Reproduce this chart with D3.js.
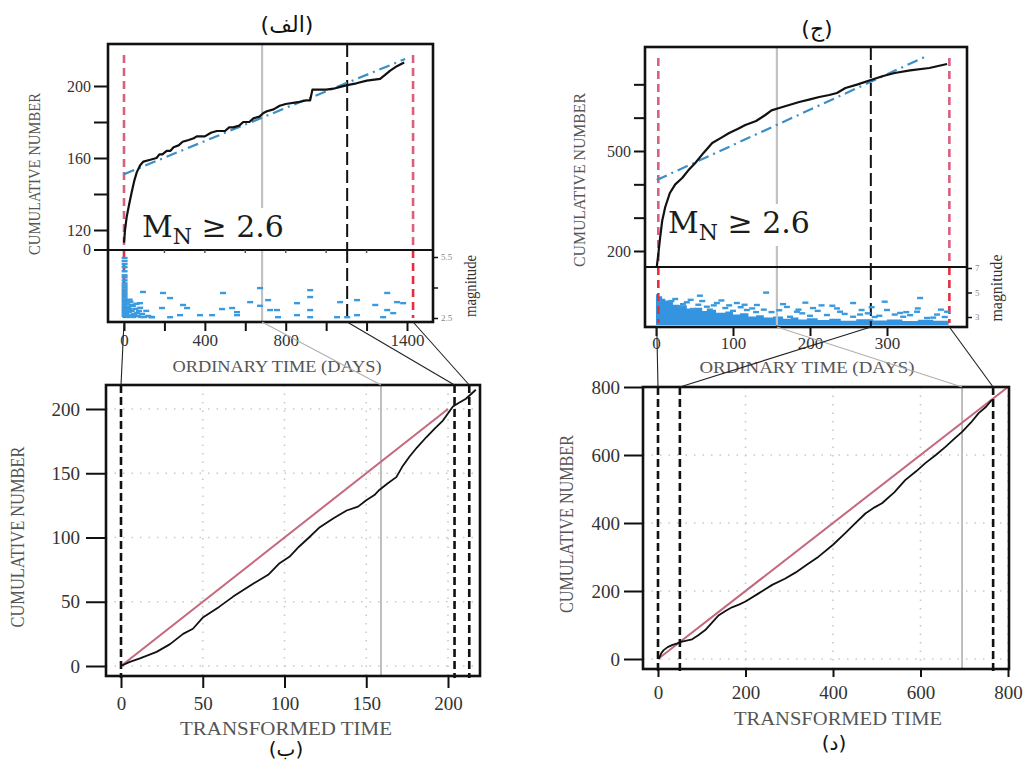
<!DOCTYPE html>
<html>
<head>
<meta charset="utf-8">
<script src="https://cdn.jsdelivr.net/npm/d3@7"></script>
<style>
  body { margin: 0; background: #fff; }
  svg { display: block; }
</style>
</head>
<body>
<svg id="fig" width="1024" height="761"></svg>
<script>
// ---------- data: panel (الف) ordinary time ----------
const daysA = [0, 5, 13, 25, 38, 50, 63, 80, 96, 130, 161, 175, 190, 211, 230, 245, 270, 290, 320, 345, 360, 400, 430, 459, 500, 520, 540, 570, 590, 620, 640, 670, 690, 707, 740, 770, 800, 860, 900, 921, 932, 1000, 1036, 1070, 1104, 1150, 1201, 1267, 1290, 1317, 1350, 1386];
const cumA  = [113, 120, 127, 134, 141, 147, 152, 156, 158, 159, 160, 162, 162, 164, 164, 166, 167, 169, 170, 171, 172, 172, 174, 175, 175, 177, 177, 178, 180, 180, 182, 183, 185, 186, 187, 189, 190, 191, 192, 192, 198, 198, 198.5, 199.5, 200.5, 201.5, 203, 204, 206, 208.5, 211, 213];
const fitDaysA = [0, 1391];
const fitCumA  = [151, 215];
const quakesA = [
  [3,5.45],[3,5.3],[3,5.15],[3,5.0],[3,4.8],[3,4.6],[3,4.5],[3,4.35],[3,4.2],[3,4.1],[3,4.0],[3,3.9],[3,3.8],[3,3.7],
  [3,3.6],[3,3.5],[3,3.4],[3,3.3],[3,3.2],[3,3.1],[3,3.0],[3,2.9],[3,2.8],[3,2.7],[3,2.6],
  [8,3.35],[14,3.2],[20,3.05],[26,2.95],[32,3.3],[38,2.85],[44,3.1],[50,2.7],[56,2.95],[62,3.2],[68,2.6],[74,2.85],
  [80,3.0],[12,2.7],[18,2.55],[24,2.8],[30,2.6],[36,3.15],[46,2.55],[58,2.6],[90,2.7],[100,2.55],[110,2.85],[120,2.6],
  [135,2.55],[15,2.9],[28,3.4],[42,2.65],[65,2.75],[85,2.55],
  [94,3.78],[193,3.73],[228,3.48],[490,3.73],[673,3.97],[921,3.87],[1302,3.73],[79,3.23],[188,2.99],[292,3.14],
  [312,2.99],[376,2.64],[277,2.64],[139,2.54],[228,2.54],[436,2.64],[485,2.94],[535,2.99],[559,2.79],[559,2.64],
  [624,3.28],[713,3.38],[723,2.89],[757,2.89],[762,2.54],[856,3.23],[856,2.64],[921,3.53],[921,2.89],[921,2.54],
  [1069,3.28],[1054,2.54],[1153,3.38],[1153,2.64],[1243,3.14],[1302,2.89],[1332,2.74],[1282,2.54],[1351,3.28],
  [1381,3.23],[1104,2.54],[673,3.1]
];
const ticksDaysA = [0, 200, 400, 600, 800, 1000, 1200, 1400];
const labelsDaysA = ["0", "", "400", "", "800", "", "", "1400"];
const ticksCumA = [120, 140, 160, 180, 200];
const labelsCumA = ["120", "", "160", "", "200"];
const ticksMagA = [2.5, 4, 5.5];
const labelsMagA = ["2.5", "", "5.5"];
const redDaysA = [0, 1430];
const blackDaysA = [1104];
const grayDaysA = [683];

// ---------- data: panel (ج) ordinary time ----------
const daysC = [1, 3, 5, 8, 12, 18, 25, 34, 42, 51, 62, 73, 85, 95, 106, 116, 130, 142, 150, 160, 173, 186, 200, 212, 225, 235, 246, 262, 279, 295, 310, 330, 355, 378];
const cumC  = [152, 190, 233, 290, 332, 374, 400, 419, 442, 464, 495, 524, 540, 554, 566, 578, 590, 608, 622, 629, 638, 647, 655, 662, 668, 674, 689, 700, 713, 725, 734, 742, 749, 761];
const fitDaysC = [1, 349];
const fitCumC  = [413, 782];
// top edge of the dense cloud of small events
const denseDaysC = [0, 3, 8, 12, 18, 22, 30, 40, 50, 60, 66, 78, 90, 100, 109, 120, 130, 140, 152, 165, 175, 185, 196, 210, 225, 240, 260, 282, 300, 320, 340, 360, 380];
const denseTopC  = [4.85, 4.7, 4.5, 4.35, 4.25, 4.0, 3.95, 3.7, 3.75, 3.5, 3.6, 3.35, 3.45, 3.2, 3.3, 3.05, 3.15, 2.95, 3.05, 2.85, 2.95, 2.8, 2.9, 2.75, 2.85, 2.7, 2.82, 2.72, 2.8, 2.68, 2.78, 2.7, 2.75];
const quakesC = [
  [57,4.74],[143,4.99],[343,4.55],[25,4.47],[40,4.2],[79,4.14],[105,4.14],[194,4.17],[229,3.92],[256,4.14],[297,4.25],
  [31,3.84],[48,3.65],[66,3.84],[90,3.73],[131,3.98],[118,3.57],[170,3.82],[183,3.43],[204,3.73],[239,3.43],[267,3.57],
  [300,3.57],[317,3.33],[339,3.43],[378,3.43],[222,3.16],[256,3.02],[284,3.0],[321,3.02],[352,2.92],[174,3.02],
  [20,4.3],[35,4.05],[55,4.0],[75,3.95],[95,3.95],[110,3.8],[125,3.7],[140,3.6],[60,4.3],[85,4.35],[150,3.4],
  [160,3.55],[190,3.3],[210,3.5],[245,3.25],[275,3.3],[290,3.1],[310,3.2],[330,3.15],[365,3.2],[375,3.0],[360,2.95],
  [215,3.95],[165,4.05],[280,3.8],[340,3.7],[100,3.5],[130,3.4],[70,3.6],[45,4.4],[115,4.0],[185,3.6],[235,3.7],
  [265,3.2],[325,3.4],[370,3.6],[200,3.1]
];
const ticksDaysC = [0, 100, 200, 300];
const labelsDaysC = ["0", "100", "200", "300"];
const ticksCumC = [200, 300, 400, 500, 600, 700];
const labelsCumC = ["200", "", "", "500", "", ""];
const ticksMagC = [3, 5, 7];
const labelsMagC = ["3", "5", "7"];
const redDaysC = [3, 381];
const blackDaysC = [279];
const grayDaysC = [157];

// ---------- data: panel (ب) transformed time ----------
const transB = [0, 5, 11.6, 21.8, 30, 38, 44, 50.3, 60, 68.6, 80.8, 90, 97, 103, 109, 115, 121.6, 130, 138, 145, 150, 155, 158, 163, 168.4, 172, 176.5, 181, 186.7, 192, 196.9, 203, 207, 211, 217];
const cumB   = [0, 3, 6, 11, 17, 25, 29, 38, 46, 54, 64, 71, 80, 85, 93, 100, 108, 115, 121, 124, 129, 133, 137, 142, 147, 155, 163, 170, 178, 185, 191, 202, 205, 208, 215];
const ticksB = [0, 50, 100, 150, 200];
const gridB = [50, 100, 150, 200];
const dashedTransB = [0, 204, 213];
const grayTransB = [159];

// ---------- data: panel (د) transformed time ----------
const transD = [1.5, 8, 13, 22, 32, 44, 55, 65, 78, 92, 108, 124, 139, 155, 169, 185, 200, 230, 261, 290, 314, 340, 367, 400, 428, 450, 474, 495, 512, 540, 565, 590, 611, 635, 657, 675, 695, 715, 733, 750, 763];
const cumD   = [0, 18, 26, 35, 41, 46, 51, 54, 58, 70, 85, 108, 129, 142, 152, 160, 169, 193, 218, 236, 254, 277, 301, 336, 370, 398, 428, 446, 458, 490, 526, 552, 576, 600, 624, 645, 668, 695, 723, 742, 762];
const ticksD = [0, 200, 400, 600, 800];
const gridXD = [200, 400, 600, 800];
const gridYD = [0, 200, 400, 600];
const dashedTransD = [0, 50, 766];
const grayTransD = [695];

// links: ordinary day -> transformed time
const linksAB = [[0, 0], [683, 159], [1104, 204], [1430, 213]];
const linksCD = [[1, 0], [157, 695], [279, 50], [381, 766]];

const serif = "'Liberation Serif', 'Times New Roman', serif";
const svg = d3.select("#fig");
const defs = svg.append("defs");

function styleAxis(g, size, color) {
  g.select(".domain").remove();
  g.selectAll(".tick line").attr("stroke", "#111").attr("stroke-width", 2);
  g.selectAll(".tick text").attr("font-family", serif).attr("font-size", size).attr("fill", color || "#333");
}

function vText(x, y, s, size, len, color) {
  svg.append("text")
    .attr("transform", `translate(${x},${y}) rotate(-90)`)
    .attr("text-anchor", "middle")
    .attr("font-family", serif).attr("font-size", size).attr("fill", color || "#555")
    .attr("textLength", len).attr("lengthAdjust", "spacingAndGlyphs")
    .text(s);
}

function hText(x, y, s, size, len, color) {
  svg.append("text")
    .attr("x", x).attr("y", y).attr("text-anchor", "middle")
    .attr("font-family", serif).attr("font-size", size).attr("fill", color || "#555")
    .attr("textLength", len).attr("lengthAdjust", "spacingAndGlyphs")
    .text(s);
}

function drawTop(c) {
  const x = d3.scaleLinear().domain(c.xDomain).range(c.xRange);
  const y = d3.scaleLinear().domain(c.yDomain).range(c.yRange);
  const m = d3.scaleLinear().domain(c.mDomain).range(c.mRange);
  const w = c.right - c.left;

  defs.append("clipPath").attr("id", c.id + "u").append("rect")
    .attr("x", c.left).attr("y", c.top).attr("width", w).attr("height", c.mid - c.top);
  defs.append("clipPath").attr("id", c.id + "l").append("rect")
    .attr("x", c.left).attr("y", c.mid).attr("width", w).attr("height", c.bottom - c.mid);

  const up = svg.append("g").attr("clip-path", `url(#${c.id}u)`);
  const lo = svg.append("g").attr("clip-path", `url(#${c.id}l)`);

  // magnitudes (lower strip)
  if (c.dense) {
    const pts = c.dense.days.map((d, i) => [d, c.dense.top[i]]);
    lo.append("path").datum(pts)
      .attr("d", d3.area().x(d => x(d[0])).y0(m(c.dense.floor)).y1(d => m(d[1])).curve(d3.curveStepAfter))
      .attr("fill", "#3494e0");
  }
  // vertical markers
  [[up, c.top, c.mid, "#d9607e"], [lo, c.mid, c.bottom, "#e2303f"]].forEach(([g, y0, y1, red]) => {
    g.selectAll(null).data(c.gray).join("line")
      .attr("x1", d => x(d)).attr("x2", d => x(d)).attr("y1", y0).attr("y2", y1)
      .attr("stroke", "#c2c2c2").attr("stroke-width", 2.2);
    g.selectAll(null).data(c.red).join("line")
      .attr("x1", d => x(d)).attr("x2", d => x(d)).attr("y1", Math.max(y0, c.top + 11)).attr("y2", y1 - 4)
      .attr("stroke", red).attr("stroke-width", 2.6).attr("stroke-dasharray", "8,5");
    g.selectAll(null).data(c.black).join("line")
      .attr("x1", d => x(d)).attr("x2", d => x(d)).attr("y1", y0).attr("y2", y1)
      .attr("stroke", "#111").attr("stroke-width", 2).attr("stroke-dasharray", "13,5");
  });
  lo.selectAll(null).data(c.quakes).join("rect")
    .attr("x", d => x(d[0]) - 3).attr("y", d => m(d[1]) - 1.2)
    .attr("width", 6).attr("height", 2.4).attr("fill", "#3a9ae0");

  // magnitude threshold label over a white patch
  const t = up.append("text").attr("x", c.mnX).attr("y", c.mnY)
    .attr("font-family", "'DejaVu Serif', serif").attr("font-size", 30).attr("fill", "#1c1c1c");
  t.append("tspan").text("M");
  t.append("tspan").attr("font-size", 22).attr("dy", 7).text("N");
  t.append("tspan").attr("dy", -7).text(" \u2265 2.6");
  const bb = t.node().getBBox();
  up.insert("rect", () => t.node())
    .attr("x", bb.x - 2).attr("y", bb.y - 1).attr("width", bb.width + 4).attr("height", bb.height + 2)
    .attr("fill", "#fff");

  // fitted rate (dash-dot) and cumulative count
  up.append("path").datum(c.fitDays.map((d, i) => [d, c.fitCum[i]]))
    .attr("d", d3.line().x(d => x(d[0])).y(d => y(d[1])))
    .attr("fill", "none").attr("stroke", "#3b8fc6").attr("stroke-width", 2.2)
    .attr("stroke-dasharray", "11,5,2,5");
  up.append("path").datum(c.days.map((d, i) => [d, c.cum[i]]))
    .attr("d", d3.line().x(d => x(d[0])).y(d => y(d[1])))
    .attr("fill", "none").attr("stroke", "#111").attr("stroke-width", 2.2).attr("stroke-linejoin", "round");

  // frame
  svg.append("rect").attr("x", c.left).attr("y", c.top).attr("width", w).attr("height", c.bottom - c.top)
    .attr("fill", "none").attr("stroke", "#111").attr("stroke-width", 2.6);
  svg.append("line").attr("x1", c.left).attr("x2", c.right).attr("y1", c.mid).attr("y2", c.mid)
    .attr("stroke", "#111").attr("stroke-width", 2);

  // axes
  const ay = svg.append("g").attr("transform", `translate(${c.left},0)`)
    .call(d3.axisLeft(y).tickValues(c.yTicks).tickFormat((d, i) => c.yLabels[i]).tickSize(c.yTick).tickPadding(3));
  styleAxis(ay, 16);
  if (c.breakLabel) {
    svg.append("line").attr("x1", c.left - c.yTick).attr("x2", c.left).attr("y1", c.mid).attr("y2", c.mid)
      .attr("stroke", "#111").attr("stroke-width", 2);
    svg.append("text").attr("x", c.left - c.yTick - 3).attr("y", c.mid + 5).attr("text-anchor", "end")
      .attr("font-family", serif).attr("font-size", 16).attr("fill", "#333").text(c.breakLabel);
    svg.selectAll(null).data(c.xTicks.slice(1, -1)).join("line")
      .attr("x1", d => x(d)).attr("x2", d => x(d)).attr("y1", c.mid).attr("y2", c.mid + 3)
      .attr("stroke", "#555").attr("stroke-width", 1.5);
  }
  const ax = svg.append("g").attr("transform", `translate(0,${c.bottom})`)
    .call(d3.axisBottom(x).tickValues(c.xTicks).tickFormat((d, i) => c.xLabels[i]).tickSize(9).tickPadding(c.xPad));
  styleAxis(ax, 17);
  const am = svg.append("g").attr("transform", `translate(${c.right},0)`)
    .call(d3.axisRight(m).tickValues(c.mTicks).tickFormat((d, i) => c.mLabels[i]).tickSize(5).tickPadding(3));
  styleAxis(am, 9, "#888");
  am.selectAll(".tick line").attr("stroke-width", 1.5);

  vText(c.yTitle[0], c.yTitle[1], "CUMULATIVE NUMBER", 17, c.yTitle[2]);
  hText(c.xTitle[0], c.xTitle[1], "ORDINARY TIME (DAYS)", 16, c.xTitle[2]);
  vText(c.magTitle[0], c.magTitle[1], "magnitude", 16, c.magTitle[2], "#333");
  svg.append("text").attr("x", c.head[0]).attr("y", c.head[1]).attr("text-anchor", "middle")
    .attr("font-family", "'DejaVu Sans', sans-serif").attr("font-size", 22).attr("fill", "#111").text(c.head[2]);
  return x;
}

function drawBottom(c) {
  const x = d3.scaleLinear().domain(c.xDomain).range(c.xRange);
  const y = d3.scaleLinear().domain(c.yDomain).range(c.yRange);
  const w = c.right - c.left, h = c.bottom - c.top;
  defs.append("clipPath").attr("id", c.id + "c").append("rect")
    .attr("x", c.left).attr("y", c.top).attr("width", w).attr("height", h);
  const g = svg.append("g").attr("clip-path", `url(#${c.id}c)`);

  g.selectAll(null).data(c.gridX).join("line")
    .attr("x1", d => x(d)).attr("x2", d => x(d)).attr("y1", c.top).attr("y2", c.bottom)
    .attr("stroke", "#c9c9c9").attr("stroke-width", 1.6).attr("stroke-dasharray", "1.5,7");
  g.selectAll(null).data(c.gridY).join("line")
    .attr("y1", d => y(d)).attr("y2", d => y(d)).attr("x1", c.left).attr("x2", c.right)
    .attr("stroke", "#c9c9c9").attr("stroke-width", 1.6).attr("stroke-dasharray", "1.5,7");
  g.selectAll(null).data(c.gray).join("line")
    .attr("x1", d => x(d)).attr("x2", d => x(d)).attr("y1", c.top).attr("y2", c.bottom)
    .attr("stroke", "#b8b8b8").attr("stroke-width", 1.8);

  // unit-rate reference line y = x
  const lim = [Math.min(c.xDomain[0], c.yDomain[0]), Math.max(c.xDomain[1], c.yDomain[1])];
  g.append("path").datum(lim)
    .attr("d", d3.line().x(d => x(d)).y(d => y(d)))
    .attr("stroke", "#c4687c").attr("stroke-width", 2).attr("fill", "none");
  g.append("path").datum(c.t.map((d, i) => [d, c.n[i]]))
    .attr("d", d3.line().x(d => x(d[0])).y(d => y(d[1])))
    .attr("fill", "none").attr("stroke", "#111").attr("stroke-width", 1.8).attr("stroke-linejoin", "round");
  svg.selectAll(null).data(c.dashed).join("line")
    .attr("x1", d => x(d)).attr("x2", d => x(d)).attr("y1", c.top).attr("y2", c.bottom + 2)
    .attr("stroke", "#111").attr("stroke-width", 2.6).attr("stroke-dasharray", "8,4");

  svg.append("rect").attr("x", c.left).attr("y", c.top).attr("width", w).attr("height", h)
    .attr("fill", "none").attr("stroke", "#111").attr("stroke-width", 2.6);

  const ay = svg.append("g").attr("transform", `translate(${c.left},0)`)
    .call(d3.axisLeft(y).tickValues(c.ticks).tickSize(c.yTick).tickPadding(c.yPad));
  styleAxis(ay, 19);
  const ax = svg.append("g").attr("transform", `translate(0,${c.bottom})`)
    .call(d3.axisBottom(x).tickValues(c.ticks).tickSize(c.xTick).tickPadding(c.xPad));
  styleAxis(ax, 19);

  vText(c.yTitle[0], c.yTitle[1], "CUMULATIVE NUMBER", 18, c.yTitle[2]);
  hText(c.xTitle[0], c.xTitle[1], "TRANSFORMED TIME", 19, c.xTitle[2]);
  svg.append("text").attr("x", c.head[0]).attr("y", c.head[1]).attr("text-anchor", "middle")
    .attr("font-family", "'DejaVu Sans', sans-serif").attr("font-size", 20).attr("fill", "#111").text(c.head[2]);
  return x;
}

function drawLinks(links, xTop, yTop, xBot, yBot, grayIndex) {
  svg.selectAll(null).data(links).join("line")
    .attr("x1", d => xTop(d[0])).attr("y1", yTop)
    .attr("x2", d => xBot(d[1])).attr("y2", yBot)
    .attr("stroke", (d, i) => i === grayIndex ? "#b0b0b0" : "#222")
    .attr("stroke-width", 1.1);
}

const xA = drawTop({
  id: "A", left: 108, right: 433, top: 44, mid: 250, bottom: 322,
  xDomain: [0, 1400], xRange: [124, 407], yDomain: [120, 200], yRange: [230, 86],
  mDomain: [2.5, 5.5], mRange: [318, 257],
  days: daysA, cum: cumA, fitDays: fitDaysA, fitCum: fitCumA, quakes: quakesA,
  red: redDaysA, black: blackDaysA, gray: grayDaysA,
  xTicks: ticksDaysA, xLabels: labelsDaysA, xPad: 3,
  yTicks: ticksCumA, yLabels: labelsCumA, yTick: 14, breakLabel: "0",
  mTicks: ticksMagA, mLabels: labelsMagA,
  mnX: 142, mnY: 237,
  yTitle: [40, 174, 162], xTitle: [277, 372, 209], magTitle: [476, 286, 62],
  head: [287, 32, "(الف)"]
});

const xC = drawTop({
  id: "C", left: 645, right: 967, top: 47, mid: 267, bottom: 327,
  xDomain: [0, 300], xRange: [656, 887], yDomain: [200, 500], yRange: [251, 151],
  mDomain: [3, 7], mRange: [317, 268],
  days: daysC, cum: cumC, fitDays: fitDaysC, fitCum: fitCumC, quakes: quakesC,
  dense: { days: denseDaysC, top: denseTopC, floor: 2.35 },
  red: redDaysC, black: blackDaysC, gray: grayDaysC,
  xTicks: ticksDaysC, xLabels: labelsDaysC, xPad: 1,
  yTicks: ticksCumC, yLabels: labelsCumC, yTick: 11,
  mTicks: ticksMagC, mLabels: labelsMagC,
  mnX: 668, mnY: 233,
  yTitle: [585, 180, 174], xTitle: [807, 373, 215], magTitle: [1002, 288, 67],
  head: [817, 36, "(ج)"]
});

const xB = drawBottom({
  id: "B", left: 106, right: 480, top: 385, bottom: 676,
  xDomain: [0, 200], xRange: [121, 448], yDomain: [0, 200], yRange: [666, 409],
  t: transB, n: cumB, ticks: ticksB, gridX: gridB, gridY: ticksB,
  dashed: dashedTransB, gray: grayTransB,
  yTick: 20, yPad: 6, xTick: 12, xPad: 9,
  yTitle: [24, 537, 181], xTitle: [286, 735, 212],
  head: [286, 756, "(ب)"]
});

const xD = drawBottom({
  id: "D", left: 643, right: 1009, top: 387, bottom: 669,
  xDomain: [0, 800], xRange: [658, 1008], yDomain: [0, 800], yRange: [659, 387],
  t: transD, n: cumD, ticks: ticksD, gridX: gridXD, gridY: gridYD,
  dashed: dashedTransD, gray: grayTransD,
  yTick: 19, yPad: 4, xTick: 8, xPad: 9,
  yTitle: [573, 524, 178], xTitle: [838, 725, 208],
  head: [834, 750, "(د)"]
});

drawLinks(linksAB, xA, 322, xB, 385, 1);
drawLinks(linksCD, xC, 327, xD, 387, 1);
</script>
</body>
</html>
